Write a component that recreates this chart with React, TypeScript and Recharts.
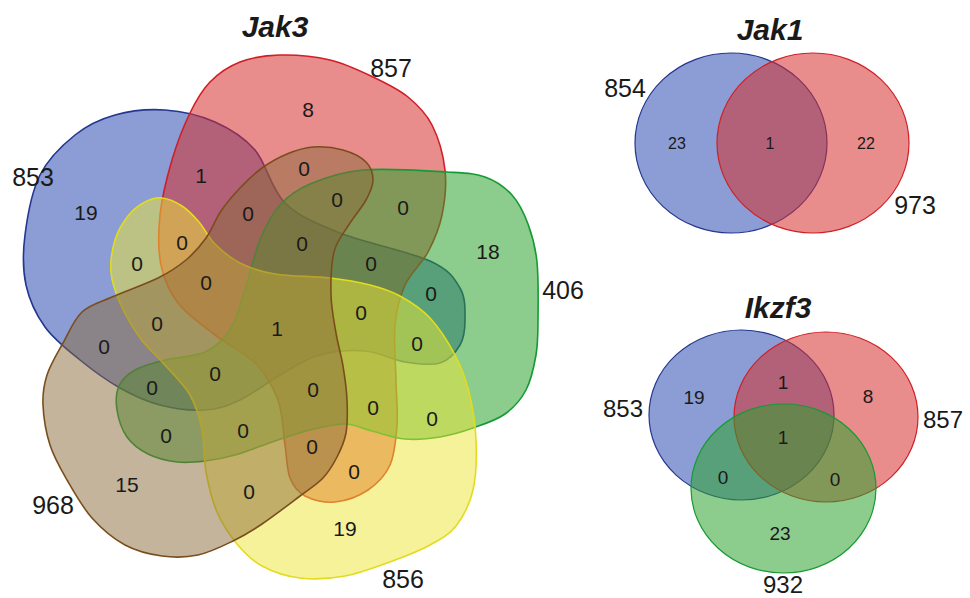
import React from 'react';
import { ScatterChart, Scatter, XAxis, YAxis } from 'recharts';

const W = 970;
const H = 598;
const FONT = '"Liberation Sans", Arial, Helvetica, sans-serif';

// ---- Jak3 (five sets) ----
const jak3Names = ['853', '857', '406', '856', '968'];
const jak3NamePos: [number, number][] = [[33, 177], [391, 68], [563, 290], [403, 579], [53, 505]];

// region counts and where each region's label sits
const jak3Counts = [19, 8, 18, 19, 15, 1, 0, 0, 0, 0, 0, 0, 0, 0, 0, 0, 0, 0, 1, 0, 0, 0, 0, 0, 0, 0, 0, 0, 0, 0, 0];
const jak3CountPos: [number, number][] = [
  [86, 212], [308, 109], [488, 251], [345, 528], [127, 484],
  [201, 175], [248, 213], [182, 242], [137, 263], [206, 282],
  [304, 168], [337, 199], [403, 207], [302, 243], [371, 263],
  [431, 293], [361, 312], [157, 323], [277, 328], [104, 346],
  [215, 373], [152, 387], [243, 430], [166, 435], [249, 491],
  [417, 343], [313, 389], [373, 407], [432, 418], [312, 446],
  [354, 471],
];

// outlines of the five blobs
const blueBlob: [number, number][] = [
  [165, 110], [215, 122], [255, 150], [285, 203], [340, 233], [430, 261], [460, 288], [465, 320],
  [460, 345], [440, 363], [405, 362], [365, 351], [320, 355], [285, 372], [240, 400], [205, 410],
  [160, 405], [120, 388], [80, 360], [45, 327], [26, 285], [25, 235], [40, 175], [75, 135], [115, 115],
];
const redBlob: [number, number][] = [
  [280, 55], [330, 60], [373, 77], [408, 97], [432, 125], [445, 170], [442, 215], [428, 252],
  [405, 285], [395, 325], [396, 380], [397, 425], [390, 465], [368, 490], [335, 502], [305, 496],
  [290, 478], [285, 445], [278, 400], [255, 363], [215, 335], [178, 303], [161, 265], [160, 215],
  [172, 160], [190, 113], [210, 82], [240, 62],
];
const greenBlob: [number, number][] = [
  [363, 170], [447, 172], [485, 177], [512, 195], [528, 224], [537, 262], [538, 320], [536, 355],
  [526, 390], [505, 414], [473, 428], [440, 437], [405, 439], [372, 431], [345, 424], [310, 430],
  [275, 441], [235, 455], [205, 461], [177, 462], [148, 454], [127, 437], [117, 410], [119, 386],
  [135, 370], [165, 360], [205, 352], [230, 330], [245, 290], [260, 240], [280, 205], [310, 184],
];
const yellowBlob: [number, number][] = [
  [162, 198], [182, 206], [199, 222], [215, 244], [240, 263], [275, 274], [330, 278], [370, 285],
  [400, 296], [430, 318], [455, 355], [469, 392], [476, 440], [473, 490], [456, 526], [430, 545],
  [395, 560], [345, 576], [300, 578], [262, 566], [237, 544], [217, 512], [206, 472], [202, 430],
  [190, 395], [163, 363], [140, 338], [120, 303], [111, 272], [115, 240], [128, 216], [145, 202],
];
const brownBlob: [number, number][] = [
  [63, 343], [47, 375], [43, 405], [50, 445], [67, 480], [92, 518], [125, 545], [162, 556],
  [198, 555], [233, 541], [262, 524], [300, 496], [323, 478], [337, 457], [346, 433], [347, 400],
  [343, 366], [336, 333], [331, 295], [334, 252], [348, 226], [366, 200], [373, 180], [366, 162],
  [343, 150], [313, 147], [287, 154], [262, 168], [240, 188], [221, 211], [206, 238], [186, 260],
  [158, 278], [112, 297], [82, 312],
];

// ---- Jak1 (two sets) ----
const jak1Names = ['854', '973'];
const jak1NamePos: [number, number][] = [[625, 88], [915, 205]];
const jak1Counts = [23, 1, 22];
const jak1CountPos: [number, number][] = [[677, 143], [770, 143], [866, 143]];
// bounding boxes of the circles
const jak1Blue: [number, number][] = [[635, 53], [827, 233]];
const jak1Red: [number, number][] = [[717, 53], [909, 233]];

// ---- Ikzf3 (three sets) ----
const ikzf3Names = ['853', '857', '932'];
const ikzf3NamePos: [number, number][] = [[623, 408], [943, 419], [783, 584]];
const ikzf3Counts = [19, 1, 8, 1, 0, 0, 23];
const ikzf3CountPos: [number, number][] = [[694, 397], [783, 382], [868, 396], [783, 437], [723, 477], [835, 479], [780, 533]];
const ikzf3Blue: [number, number][] = [[649, 330], [834, 500]];
const ikzf3Red: [number, number][] = [[734, 332], [918, 502]];
const ikzf3Green: [number, number][] = [[691, 404], [876, 573]];

const titles = ['Jak3', 'Jak1', 'Ikzf3'];
const titlePos: [number, number][] = [[275, 26], [770, 29], [778, 307]];

const BLUE = { fill: '#3d5cb8', stroke: '#24368f', op: 0.6 };
const RED = { fill: '#d62d2d', stroke: '#d01f26', op: 0.55 };
const GREEN = { fill: '#2ea32e', stroke: '#179a34', op: 0.55 };
const YELLOW = { fill: '#eee634', stroke: '#e2dc1e', op: 0.5 };
const BROWN = { fill: '#8a6a3a', stroke: '#7a4e1c', op: 0.5 };

type Pt = { x: number; y: number };

const toPts = (arr: [number, number][]) => arr.map(([x, y]) => ({ x, y }));
const toLabels = (pos: [number, number][], vals: (string | number)[]) =>
  pos.map(([x, y], i) => ({ x, y, label: String(vals[i]) }));

// smooth closed curve passing through the outline points
function closedPath(pts: Pt[]): string {
  const n = pts.length;
  let d = `M${pts[0].x},${pts[0].y}`;
  for (let i = 0; i < n; i++) {
    const p0 = pts[(i - 1 + n) % n];
    const p1 = pts[i];
    const p2 = pts[(i + 1) % n];
    const p3 = pts[(i + 2) % n];
    const c1x = p1.x + (p2.x - p0.x) / 6;
    const c1y = p1.y + (p2.y - p0.y) / 6;
    const c2x = p2.x - (p3.x - p1.x) / 6;
    const c2y = p2.y - (p3.y - p1.y) / 6;
    d += ` C${c1x},${c1y} ${c2x},${c2y} ${p2.x},${p2.y}`;
  }
  return d + 'Z';
}

const noDot = () => <g />;

function blobLine(c: { fill: string; stroke: string; op: number }) {
  return (props: any) => (
    <path d={closedPath(props.points)} fill={c.fill} fillOpacity={c.op} stroke={c.stroke} strokeWidth={1.6} />
  );
}

function ellipseLine(c: { fill: string; stroke: string; op: number }) {
  return (props: any) => {
    const [a, b] = props.points as Pt[];
    return (
      <ellipse
        cx={(a.x + b.x) / 2}
        cy={(a.y + b.y) / 2}
        rx={Math.abs(b.x - a.x) / 2}
        ry={Math.abs(b.y - a.y) / 2}
        fill={c.fill}
        fillOpacity={c.op}
        stroke={c.stroke}
        strokeWidth={1.2}
      />
    );
  };
}

function textShape(size: number, bold = false) {
  return (props: any) => (
    <text
      x={props.cx}
      y={props.cy}
      textAnchor="middle"
      dominantBaseline="central"
      fontFamily={FONT}
      fontSize={size}
      fontWeight={bold ? 'bold' : 'normal'}
      fontStyle={bold ? 'italic' : 'normal'}
      fill="#1a1a1a"
    >
      {props.payload.label}
    </text>
  );
}

const shapes: { key: string; data: Pt[]; color: typeof BLUE; ellipse?: boolean }[] = [
  { key: 'j3-blue', data: toPts(blueBlob), color: BLUE },
  { key: 'j3-red', data: toPts(redBlob), color: RED },
  { key: 'j3-green', data: toPts(greenBlob), color: GREEN },
  { key: 'j3-yellow', data: toPts(yellowBlob), color: YELLOW },
  { key: 'j3-brown', data: toPts(brownBlob), color: BROWN },
  { key: 'j1-blue', data: toPts(jak1Blue), color: BLUE, ellipse: true },
  { key: 'j1-red', data: toPts(jak1Red), color: RED, ellipse: true },
  { key: 'ik-blue', data: toPts(ikzf3Blue), color: BLUE, ellipse: true },
  { key: 'ik-red', data: toPts(ikzf3Red), color: RED, ellipse: true },
  { key: 'ik-green', data: toPts(ikzf3Green), color: GREEN, ellipse: true },
];

export default function App() {
  return (
    <div style={{ position: 'absolute', left: 0, top: 0, width: W, height: H, background: '#fff' }}>
      <ScatterChart width={W} height={H} margin={{ top: 0, right: 0, bottom: 0, left: 0 }}>
        <XAxis type="number" dataKey="x" domain={[0, W]} hide />
        <YAxis type="number" dataKey="y" domain={[0, H]} reversed hide />
        {shapes.map((s) => (
          <Scatter
            key={s.key}
            data={s.data}
            shape={noDot}
            line={s.ellipse ? ellipseLine(s.color) : blobLine(s.color)}
            isAnimationActive={false}
          />
        ))}
        <Scatter data={toLabels(jak3CountPos, jak3Counts)} shape={textShape(21)} isAnimationActive={false} />
        <Scatter data={toLabels(jak3NamePos, jak3Names)} shape={textShape(25)} isAnimationActive={false} />
        <Scatter data={toLabels(jak1CountPos, jak1Counts)} shape={textShape(16)} isAnimationActive={false} />
        <Scatter data={toLabels(jak1NamePos, jak1Names)} shape={textShape(25)} isAnimationActive={false} />
        <Scatter data={toLabels(ikzf3CountPos, ikzf3Counts)} shape={textShape(19)} isAnimationActive={false} />
        <Scatter data={toLabels(ikzf3NamePos, ikzf3Names)} shape={textShape(24)} isAnimationActive={false} />
        <Scatter data={toLabels(titlePos, titles)} shape={textShape(30, true)} isAnimationActive={false} />
      </ScatterChart>
    </div>
  );
}
